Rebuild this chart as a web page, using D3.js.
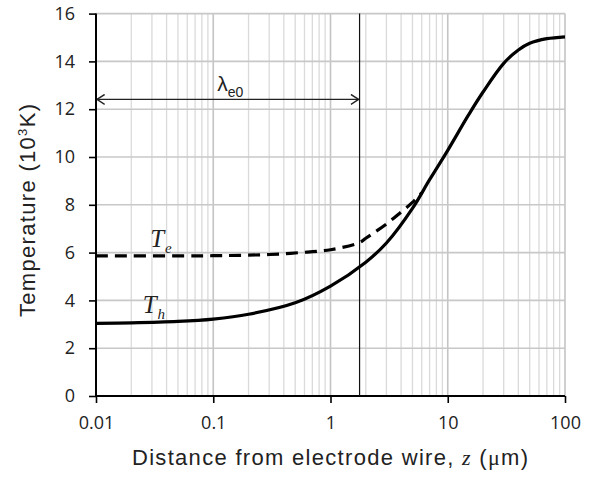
<!DOCTYPE html>
<html lang="en">
<head>
<meta charset="UTF-8">
<title>Temperature vs distance</title>
<script src="https://d3js.org/d3.v7.min.js"></script>
<style>
  body { margin: 0; background: #fff; font-family: "Liberation Sans", Arial, sans-serif; }
  .tick text { font-family: "Open Sans", "Liberation Sans", sans-serif; font-size: 18px; fill: #222; }
</style>
</head>
<body>
<div id="chart"></div>
<script>
// distance from the wire (um) and temperatures (10^3 K)
const zHeavy = [0.01, 0.02, 0.05, 0.1, 0.2, 0.5, 1, 2, 3, 5, 7, 10, 15, 20, 30, 40, 50, 70, 100];
const tHeavy = [3.04, 3.06, 3.12, 3.22, 3.42, 3.9, 4.6, 5.6, 6.4, 7.85, 9.05, 10.28, 11.75, 12.72, 13.92, 14.48, 14.76, 14.95, 15.03];
const zElec = [0.01, 0.1, 0.3, 0.55, 1, 1.77, 2, 3, 4, 5, 6];
const tElec = [5.86, 5.87, 5.92, 6.0, 6.12, 6.42, 6.6, 7.2, 7.7, 8.1, 8.5];
const lambdaE0 = 1.77;
const arrowY = 12.41;
const xTicks = [0.01, 0.1, 1, 10, 100];
const yTicks = [0, 2, 4, 6, 8, 10, 12, 14, 16];

const W = 594, H = 477;
const margin = {top: 13.6, right: 29, bottom: 81, left: 96};
const width = W - margin.left - margin.right;
const height = H - margin.top - margin.bottom;

const svg = d3.select("#chart").append("svg")
    .attr("width", W).attr("height", H);

svg.append("defs").append("marker")
    .attr("id", "chev")
    .attr("viewBox", "0 0 10 10")
    .attr("refX", 9.5).attr("refY", 5)
    .attr("markerWidth", 9).attr("markerHeight", 11)
    .attr("markerUnits", "userSpaceOnUse")
    .attr("orient", "auto-start-reverse")
    .attr("preserveAspectRatio", "none")
    .append("path")
    .attr("d", "M1,0.5 L9.5,5 L1,9.5")
    .attr("fill", "none").attr("stroke", "#222").attr("stroke-width", 1.4);

const g = svg.append("g").attr("transform", `translate(${margin.left},${margin.top})`);

const x = d3.scaleLog().domain([0.01, 100]).range([0, width]);
const y = d3.scaleLinear().domain([0, 16]).range([height, 0]);

// minor vertical gridlines (2..9 in each decade)
const minor = [];
for (let d = 0.01; d < 99; d *= 10) {
    for (let k = 2; k <= 9; k++) minor.push(d * k);
}
g.append("g").selectAll("line").data(minor).join("line")
    .attr("x1", d => x(d)).attr("x2", d => x(d))
    .attr("y1", 0).attr("y2", height)
    .attr("stroke", "#dadada").attr("stroke-width", 1.3);

g.append("g").selectAll("line").data(xTicks.slice(1)).join("line")
    .attr("x1", d => x(d)).attr("x2", d => x(d))
    .attr("y1", 0).attr("y2", height)
    .attr("stroke", "#c4c4c4").attr("stroke-width", 1.6);

g.append("g").selectAll("line").data(yTicks.slice(1)).join("line")
    .attr("x1", 0).attr("x2", width)
    .attr("y1", d => y(d)).attr("y2", d => y(d))
    .attr("stroke", "#c8c8c8").attr("stroke-width", 1.6);

// axes
const xAxis = g.append("g")
    .attr("transform", `translate(0,${height})`)
    .call(d3.axisBottom(x).tickValues(xTicks).tickFormat(d3.format("~g")).tickSize(7).tickPadding(13));
const yAxis = g.append("g")
    .call(d3.axisLeft(y).tickValues(yTicks).tickSize(7).tickPadding(14));
[xAxis, yAxis].forEach(a => {
    a.select(".domain").attr("stroke", "#000").attr("stroke-width", 2);
    a.selectAll(".tick line").attr("stroke", "#000").attr("stroke-width", 1.6);
});
xAxis.select(".domain").attr("d", `M0,0H${width}`);
yAxis.select(".domain").attr("d", `M0,0V${height}`);

// lambda_e0 marker line and arrow
g.append("line")
    .attr("x1", x(lambdaE0)).attr("x2", x(lambdaE0))
    .attr("y1", 0).attr("y2", height)
    .attr("stroke", "#111").attr("stroke-width", 1.2);

g.append("line")
    .attr("x1", 1).attr("x2", x(lambdaE0) - 1)
    .attr("y1", y(arrowY)).attr("y2", y(arrowY))
    .attr("stroke", "#222").attr("stroke-width", 1.3)
    .attr("marker-start", "url(#chev)")
    .attr("marker-end", "url(#chev)");

const lam = g.append("text")
    .attr("x", x(0.108)).attr("y", y(arrowY) - 8)
    .attr("font-size", 21).attr("fill", "#222");
lam.append("tspan").text("λ");
lam.append("tspan").attr("dy", 6).attr("font-size", 14).text("e0");

// curves
const line = d3.line()
    .x(d => x(d[0])).y(d => y(d[1]))
    .curve(d3.curveCatmullRom.alpha(0.5));

g.append("path")
    .datum(zElec.map((z, i) => [z, tElec[i]]))
    .attr("d", line)
    .attr("fill", "none").attr("stroke", "#000")
    .attr("stroke-width", 3.2).attr("stroke-dasharray", "12,7");

g.append("path")
    .datum(zHeavy.map((z, i) => [z, tHeavy[i]]))
    .attr("d", line)
    .attr("fill", "none").attr("stroke", "#000")
    .attr("stroke-width", 3.2);

// curve labels
function curveLabel(zx, ty, sub) {
    const t = g.append("text")
        .attr("x", x(zx)).attr("y", y(ty))
        .attr("font-family", "'Liberation Serif', 'DejaVu Serif', serif")
        .attr("font-style", "italic").attr("font-size", 25).attr("fill", "#222");
    t.append("tspan").text("T");
    t.append("tspan").attr("dx", 1).attr("dy", 6).attr("font-size", 15).text(sub);
}
curveLabel(0.029, 6.23, "e");
curveLabel(0.025, 3.47, "h");

// axis titles
const xt = svg.append("text")
    .attr("x", 132).attr("y", 465)
    .attr("font-size", 22).attr("fill", "#222")
    .attr("textLength", 396).attr("lengthAdjust", "spacing");
xt.append("tspan").text("Distance from electrode wire, ");
xt.append("tspan").attr("font-family", "'Liberation Serif', serif").attr("font-style", "italic").text("z");
xt.append("tspan").text(" (");
xt.append("tspan").attr("font-family", "'Liberation Serif', serif").text("μ");
xt.append("tspan").text("m)");

const yt = svg.append("text")
    .attr("transform", `translate(35,317) rotate(-90)`)
    .attr("font-size", 22).attr("fill", "#222")
    .attr("textLength", 213).attr("lengthAdjust", "spacing");
yt.append("tspan").text("Temperature (10");
yt.append("tspan").attr("dy", -8).attr("font-size", 13).text("3");
yt.append("tspan").attr("dy", 8).text("K)");
</script>
</body>
</html>
